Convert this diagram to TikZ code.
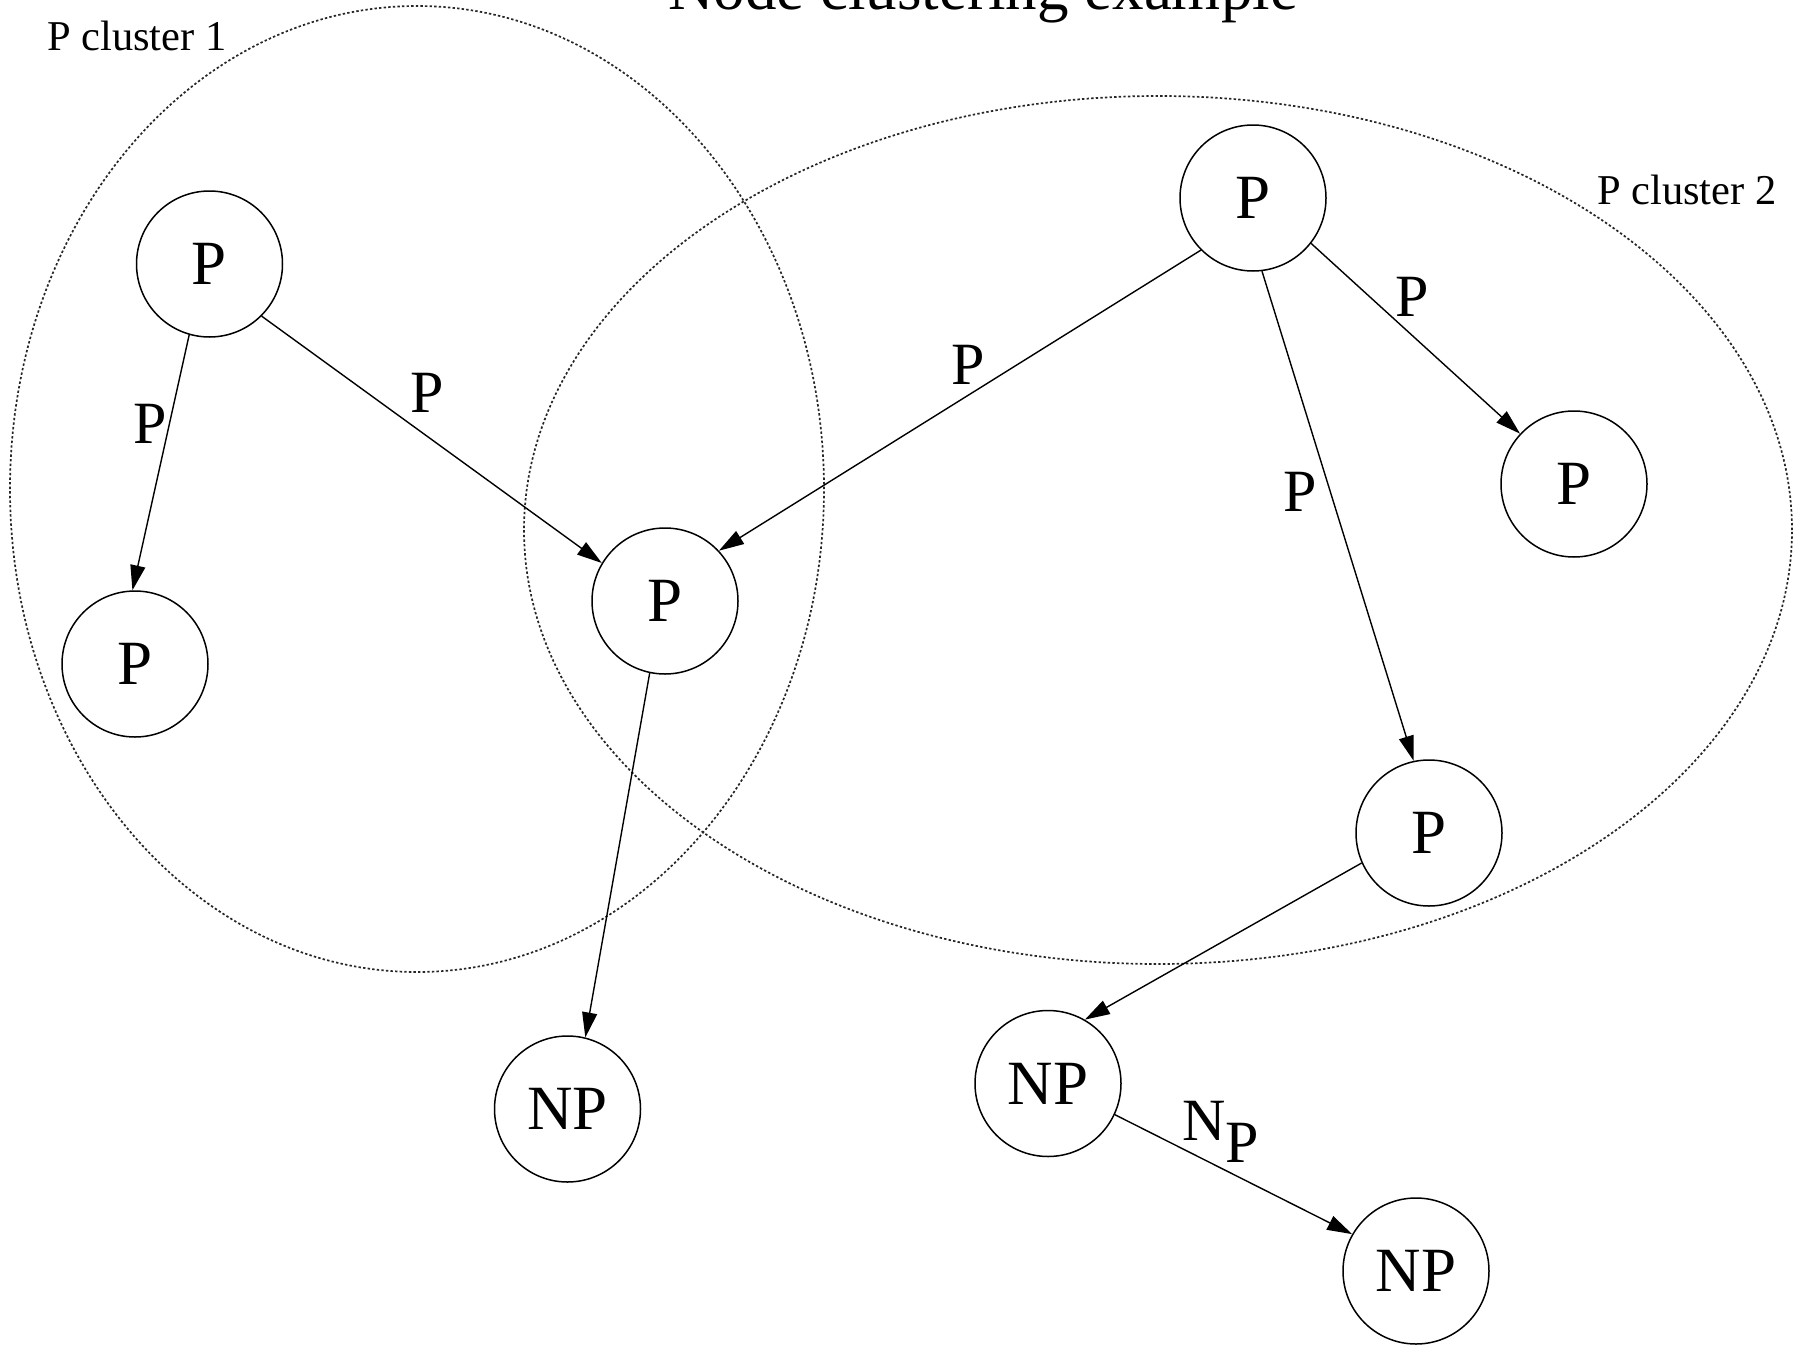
\documentclass[tikz,border=0pt]{standalone}
\usepackage{fontspec}
\setmainfont{Liberation Serif}
\usetikzlibrary{arrows.meta}

\tikzset{
  state/.style={draw, circle, line width=1.5pt, minimum size=146pt, inner sep=0pt,
    font=\fontsize{63}{70}\selectfont},
  link/.style={line width=1.4pt, -{Triangle[length=25pt, width=15pt]}},
  cluster/.style={line width=1.7pt, dash pattern=on 2.4pt off 2.2pt, black!85},
  elabel/.style={inner sep=0pt, anchor=base, font=\fontsize{60}{66}\selectfont},
  clabel/.style={inner sep=0pt, anchor=base west, font=\fontsize{42.5}{48}\selectfont},
}

\begin{document}
\begin{tikzpicture}[x=1pt, y=-1pt]
  \clip (0,0) rectangle (1794,1346);

  % title, partly above the page edge
  \node[inner sep=0pt, anchor=base, font=\fontsize{63}{70}\selectfont] (title) at (983,10) {Node clustering example};

  % clusters
  \draw[cluster] (417,489) ellipse [x radius=407pt, y radius=483pt];
  \draw[cluster] (1158,530) ellipse [x radius=634pt, y radius=434pt];
  \node[clabel] (c1) at (47,51) {P cluster 1};
  \node[clabel] (c2) at (1597,204) {P cluster 2};

  % nodes
  \node[state] (A) at (209.5,264) {P};
  \node[state] (B) at (135,664) {P};
  \node[state] (C) at (665,601) {P};
  \node[state] (D) at (1253,198) {P};
  \node[state] (E) at (1574,484) {P};
  \node[state] (F) at (1429,833) {P};
  \node[state] (G) at (567.5,1109) {NP};
  \node[state] (H) at (1048,1083.5) {NP};
  \node[state] (I) at (1416,1271) {NP};

  % edges
  \draw[link] (A.254) -- (B.92);
  \draw[link] (A.315) -- (C.149);
  \draw[link] (D.225) -- (C.43);
  \draw[link] (D.322) -- (E.137);
  \draw[link] (D.277) -- (F.102);
  \draw[link] (C.258) -- (G.76);
  \draw[link] (F.204) -- (H.60);
  \draw[link] (H.335) -- (I.150);

  % edge labels
  \node[elabel] (lAB) at (150,443) {P};
  \node[elabel] (lAC) at (427,412) {P};
  \node[elabel] (lDC) at (968,384) {P};
  \node[elabel] (lDE) at (1412,316) {P};
  \node[elabel] (lDF) at (1300,511) {P};
  \node[inner sep=0pt, anchor=base west, font=\fontsize{60}{66}\selectfont] (lHI) at (1182,1140) {N\raisebox{-22pt}{P}};
\end{tikzpicture}
\end{document}
